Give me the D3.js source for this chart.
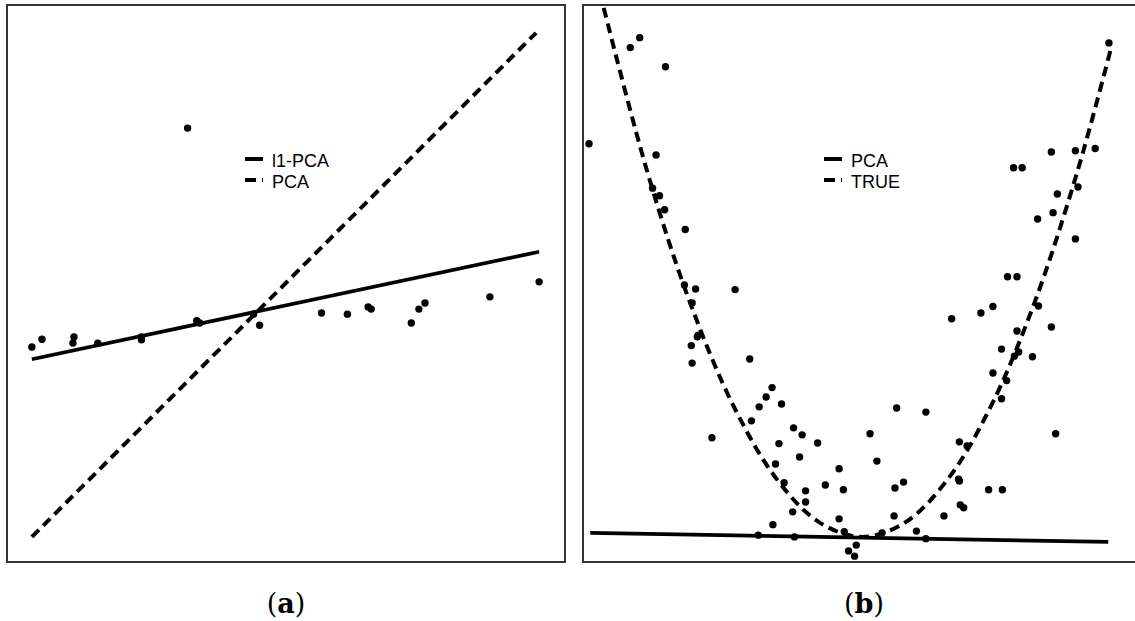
<!DOCTYPE html>
<html>
<head>
<meta charset="utf-8">
<script src="https://cdn.jsdelivr.net/npm/d3@7"></script>
<style>
  body { margin: 0; background: #fff; }
  svg { display: block; }
</style>
</head>
<body>
<div id="container"></div>
<script>
// panel (a): outlier example, l1-PCA vs PCA
const ptsAx = [0, 0.2, 0.83, 0.81, 1.30, 2.16, 2.16, 3.07, 3.25, 3.31, 4.37, 4.49, 5.71, 6.22, 6.63, 6.69, 7.48, 7.63, 7.75, 9.03, 10.0];
const ptsAy = [3.86, 4.00, 4.04, 3.93, 3.93, 4.04, 3.99, 7.79, 4.33, 4.29, 4.45, 4.25, 4.47, 4.45, 4.58, 4.54, 4.29, 4.54, 4.65, 4.76, 5.03];
const l1pcaX = [0, 10];
const l1pcaY = [3.64, 5.57];
const pcaAX = [0, 9.94];
const pcaAY = [0.45, 9.50];

// panel (b): parabola example, PCA vs TRUE
const ptsBx = [-2.70, -2.59, -2.29, -3.18, -2.40, -2.44, -2.36, -2.30, -2.06, -2.07, -1.94, -1.48, -1.98, -1.91, -1.92, -1.99, -1.98,
  -1.31, -1.05, -1.12, -1.20, -0.94, -1.29, -1.75, -0.80, -0.70, -0.52, -0.97, -0.73, -1.01, -0.27, -0.91, -0.43, -0.22, -0.66,
  -0.66, -0.81, -0.27, -1.04, -1.21, -0.79, -0.21, -0.07, -0.16, -0.09, 0.23, 0.63, 0.74, 0.37, 0.95, 1.14, 1.18, 0.38, 0.48,
  1.47, 1.63, 1.12, 1.13, 0.17, 0.09, 1.13, 1.22, 0.40, 0.74, 2.25, 1.52, 1.62, 1.68, 1.62, 1.77, 1.82, 1.98, 1.80, 2.20, 1.04,
  1.38, 1.52, 2.05, 2.87, 2.20, 2.48, 2.71, 1.76, 1.86, 2.51, 2.27, 2.22, 2.04, 2.48, 1.69, 1.80, -1.05];
const ptsBy = [8.39, 8.56, 8.06, 6.74, 6.55, 5.98, 5.85, 5.61, 5.27, 4.32, 4.25, 4.24, 4.01, 3.46, 3.43, 3.28, 2.98,
  3.05, 2.56, 2.40, 2.23, 2.28, 1.99, 1.70, 1.87, 1.75, 1.61, 1.60, 1.37, 1.25, 1.17, 0.93, 0.89, 0.81, 0.79,
  0.60, 0.43, 0.31, 0.21, 0.03, 0.00, 0.09, -0.14, -0.24, -0.33, 0.07, 0.10, -0.03, 0.36, 0.36, 0.55, 0.50, 0.84, 0.94,
  0.81, 0.81, 0.99, 0.96, 1.30, 1.77, 1.63, 1.56, 2.21, 2.14, 1.77, 2.81, 2.37, 2.68, 3.22, 3.10, 3.17, 3.09, 3.53, 3.60, 3.74,
  3.84, 3.95, 3.96, 8.47, 6.60, 6.62, 6.66, 6.33, 6.33, 6.00, 5.88, 5.56, 5.45, 5.11, 4.46, 4.46, -0.48];
const pcaBX = [-3.165, 2.862];
const pcaBY = [0.069, -0.086];
const trueX = [-3.1, -2.5, -2.0, -1.5, -1.0, -0.5, 0, 0.5, 1.0, 1.5, 2.0, 2.5, 2.9];
const trueY = [9.6, 6.25, 4.0, 2.25, 1.0, 0.25, 0, 0.25, 1.0, 2.25, 4.0, 6.25, 8.41];

const legendA = ["l1-PCA", "PCA"];
const legendB = ["PCA", "TRUE"];
const captions = ["a", "b"];

const w = 1135, h = 621;
const svg = d3.select("#container").append("svg").attr("width", w).attr("height", h);

function panel(id, box, xDom, yDom, xs, ys, solid, dashed, labels, legendX, caption, capX) {
  const x = d3.scaleLinear().domain(xDom).range([box.x0, box.x1]);
  const y = d3.scaleLinear().domain(yDom).range([box.y1, box.y0]);
  const g = svg.append("g");

  g.append("clipPath").attr("id", id)
    .append("rect")
    .attr("x", box.x0).attr("y", box.y0)
    .attr("width", box.x1 - box.x0).attr("height", box.y1 - box.y0);

  const inner = g.append("g").attr("clip-path", "url(#" + id + ")");
  const line = d3.line().x(d => x(d[0])).y(d => y(d[1]));

  inner.append("path")
    .datum(d3.zip(solid[0], solid[1]))
    .attr("d", line)
    .attr("fill", "none").attr("stroke", "#000").attr("stroke-width", 3.8);

  inner.append("path")
    .datum(d3.zip(dashed[0], dashed[1]))
    .attr("d", dashed[2] ? line.curve(d3.curveCatmullRom) : line)
    .attr("fill", "none").attr("stroke", "#000").attr("stroke-width", 4)
    .attr("stroke-dasharray", "10,6");

  inner.selectAll("circle")
    .data(d3.zip(xs, ys))
    .enter().append("circle")
    .attr("cx", d => x(d[0])).attr("cy", d => y(d[1]))
    .attr("r", 3.7).attr("fill", "#000");

  g.append("rect")
    .attr("x", box.x0).attr("y", box.y0)
    .attr("width", box.x1 - box.x0).attr("height", box.y1 - box.y0)
    .attr("fill", "none").attr("stroke", "#333").attr("stroke-width", 2);

  // legend
  const leg = g.append("g").attr("transform", "translate(" + legendX + ",159)");
  leg.append("line").attr("x1", 0).attr("x2", 18).attr("y1", 0).attr("y2", 0)
    .attr("stroke", "#000").attr("stroke-width", 4);
  leg.append("line").attr("x1", 0).attr("x2", 18).attr("y1", 21).attr("y2", 21)
    .attr("stroke", "#000").attr("stroke-width", 4).attr("stroke-dasharray", "11,6");
  leg.selectAll("text")
    .data(labels)
    .enter().append("text")
    .attr("x", 27).attr("y", (d, i) => 7.5 + i * 21)
    .attr("font-family", "Liberation Sans, Arial, sans-serif")
    .attr("font-size", 18)
    .text(d => d);

  const cap = svg.append("text")
    .attr("x", capX).attr("y", 613)
    .attr("text-anchor", "middle")
    .attr("font-family", "DejaVu Serif, serif")
    .attr("font-size", 27);
  cap.append("tspan").text("(");
  cap.append("tspan").attr("font-weight", "bold").text(caption);
  cap.append("tspan").text(")");
}

panel("clipA", {x0: 7, x1: 565, y0: 5, y1: 562}, [-0.49, 10.51], [0, 10],
  ptsAx, ptsAy, [l1pcaX, l1pcaY], [pcaAX, pcaAY, false], legendA, 245, captions[0], 286);

panel("clipB", {x0: 583, x1: 1136, y0: 5, y1: 562}, [-3.25, 3.185], [-0.43, 9.12],
  ptsBx, ptsBy, [pcaBX, pcaBY], [trueX, trueY, true], legendB, 824, captions[1], 864);
</script>
</body>
</html>
